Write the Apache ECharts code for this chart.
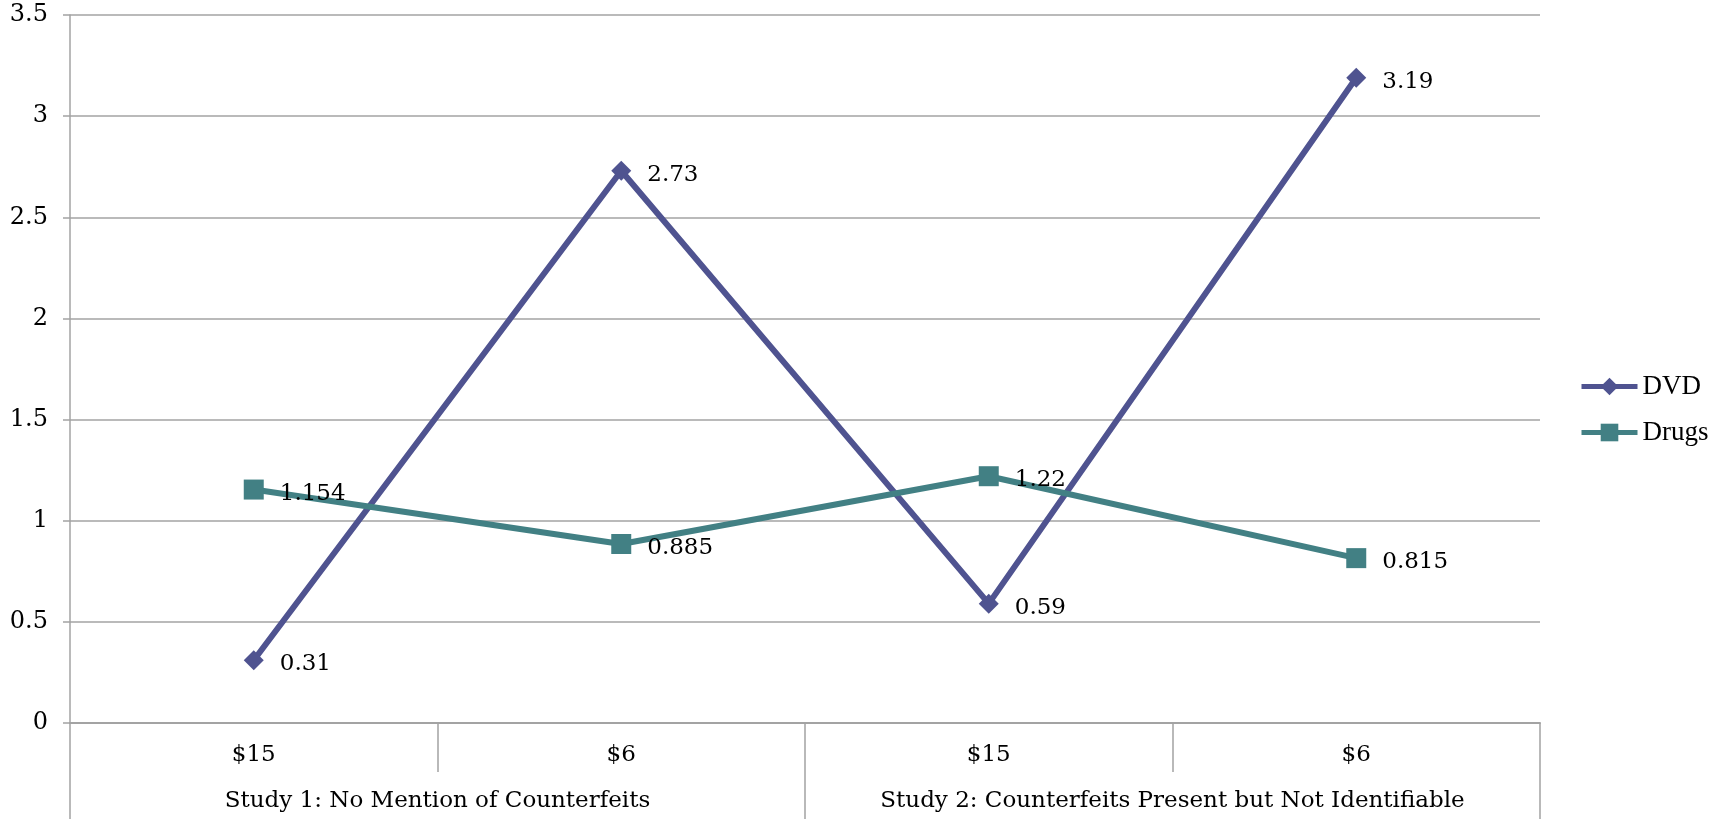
<!DOCTYPE html>
<html>
<head>
<meta charset="utf-8">
<script src="https://cdn.jsdelivr.net/npm/echarts@6/dist/echarts.min.js"></script>
<style>html,body{margin:0;padding:0;background:#fff}#c{width:1725px;height:819px}</style>
</head>
<body>
<div id="c"></div>
<script>
const priceLabels = ['$15', '$6', '$15', '$6'];
const studyLabels = ['Study 1: No Mention of Counterfeits', 'Study 2: Counterfeits Present but Not Identifiable'];
const dvdValues = [0.31, 2.73, 0.59, 3.19];
const drugsValues = [1.154, 0.885, 1.22, 0.815];
const yTicks = { min: 0, max: 3.5, interval: 0.5 };

const serif = 'DejaVu Serif';
const gridColor = '#a3a3a3';
const chart = echarts.init(document.getElementById('c'));
const labelStyle = {
  show: true, position: 'right', distance: 16, offset: [0, 4],
  color: '#000', fontFamily: serif, fontSize: 23,
  formatter: p => String(p.value)
};
chart.setOption({
  animation: false,
  grid: { left: 70, right: 185, top: 15, bottom: 96 },
  legend: {
    orient: 'vertical', left: 1574, top: 368, itemWidth: 56, itemHeight: 22, itemGap: 19,
    lineStyle: { width: 5 },
    textStyle: { fontFamily: 'Liberation Serif', fontSize: 27, color: '#000', lineHeight: 26 },
    data: ['DVD', 'Drugs']
  },
  xAxis: [
    {
      type: 'category', data: priceLabels, position: 'bottom', boundaryGap: true,
      axisLine: { show: true, lineStyle: { color: gridColor, width: 2 } },
      axisTick: { show: true, length: 49, interval: 0, lineStyle: { color: gridColor, width: 1.5 } },
      axisLabel: { margin: 21, color: '#000', fontFamily: serif, fontSize: 23, interval: 0 }
    },
    {
      type: 'category', data: studyLabels, position: 'bottom', boundaryGap: true,
      axisLine: { show: false },
      axisTick: { show: true, length: 100, interval: 0, lineStyle: { color: gridColor, width: 1.5 } },
      axisLabel: { margin: 67, color: '#000', fontFamily: serif, fontSize: 23, interval: 0 }
    }
  ],
  yAxis: {
    type: 'value', min: yTicks.min, max: yTicks.max, interval: yTicks.interval,
    axisLine: { show: true, lineStyle: { color: gridColor, width: 1.5 } },
    axisTick: { show: true, length: 7, lineStyle: { color: gridColor, width: 1.5 } },
    axisLabel: { margin: 22, color: '#000', fontFamily: serif, fontSize: 24 },
    splitLine: { show: true, lineStyle: { color: gridColor, width: 1.5 } }
  },
  series: [
    {
      name: 'DVD', type: 'line', data: dvdValues, xAxisIndex: 0,
      symbol: 'diamond', symbolSize: 20,
      lineStyle: { color: '#4F5390', width: 6 },
      itemStyle: { color: '#4F5390' },
      label: labelStyle
    },
    {
      name: 'Drugs', type: 'line', data: drugsValues, xAxisIndex: 0,
      symbol: 'rect', symbolSize: 20,
      lineStyle: { color: '#428084', width: 6 },
      itemStyle: { color: '#428084' },
      label: labelStyle
    }
  ]
});
</script>
</body>
</html>
